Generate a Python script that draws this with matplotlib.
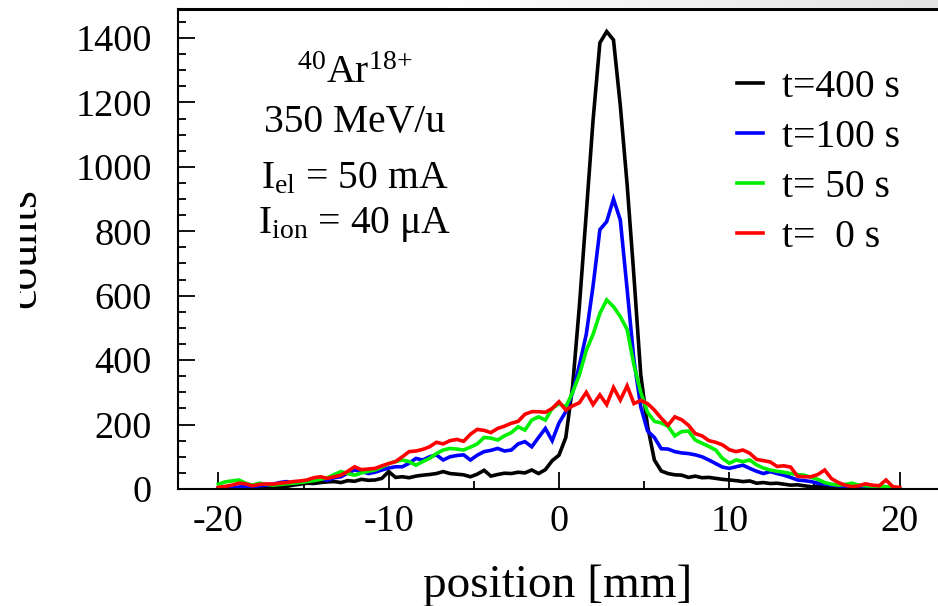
import numpy as np
import matplotlib
matplotlib.use("Agg")
import matplotlib.pyplot as plt
from matplotlib.ticker import MultipleLocator
from matplotlib.transforms import Bbox, TransformedBbox
from matplotlib.colors import LinearSegmentedColormap

plt.rcParams['font.family'] = ['Liberation Serif', 'DejaVu Serif']
plt.rcParams['mathtext.fontset'] = 'custom'
plt.rcParams['mathtext.rm'] = 'Liberation Serif'
plt.rcParams['mathtext.it'] = 'Liberation Serif:italic'
plt.rcParams['mathtext.bf'] = 'Liberation Serif:bold'
plt.rcParams['axes.unicode_minus'] = False

# Beam profile histograms: bin centres from -20 mm to 20 mm, 0.4 mm bins
bin_first, bin_last, bin_width = -20.0, 20.0, 0.4
position = np.arange(bin_first, bin_last + bin_width / 2, bin_width)

counts_t400 = [
    2, 3, 2, 4, 3, 5, 4, 6, 5, 7,
    8, 12, 15, 18, 17, 20, 22, 23, 20, 26,
    24, 30, 27, 28, 33, 54, 36, 38, 35, 40,
    43, 45, 48, 54, 48, 46, 44, 38, 46, 58,
    40, 45, 49, 48, 52, 50, 59, 48, 60, 88,
    105, 160, 320, 570, 855, 1145, 1385, 1420, 1394, 1190,
    945, 660, 355, 195, 90, 56, 48, 44, 43, 36,
    40, 35, 36, 33, 30, 28, 26, 23, 25, 18,
    20, 17, 18, 15, 12, 13, 10, 7, 8, 6,
    5, 6, 4, 5, 3, 4, 2, 3, 2, 2,
    1,
]
counts_t100 = [
    3, 5, 4, 6, 8, 6, 10, 12, 15, 20,
    23, 18, 22, 23, 28, 32, 27, 35, 38, 50,
    59, 55, 48, 52, 59, 65, 69, 69, 80, 95,
    90, 100, 106, 90, 100, 104, 106, 90, 105, 116,
    120, 126, 118, 121, 140, 147, 131, 160, 188, 150,
    205, 240, 300, 385, 480, 630, 805, 830, 900, 835,
    620, 400, 255, 180, 160, 125, 124, 116, 112, 110,
    106, 100, 90, 79, 68, 64, 69, 74, 64, 55,
    48, 54, 48, 43, 36, 28, 26, 23, 18, 15,
    12, 10, 8, 9, 7, 6, 5, 7, 4, 3,
    2,
]
counts_t50 = [
    15, 22, 25, 28, 18, 12, 18, 15, 12, 14,
    16, 18, 20, 23, 26, 30, 35, 45, 54, 48,
    43, 50, 55, 59, 68, 79, 85, 90, 85, 74,
    85, 95, 110, 121, 126, 124, 121, 130, 140, 160,
    158, 152, 165, 175, 193, 183, 214, 224, 214, 250,
    265, 255, 300, 355, 430, 480, 545, 587, 566, 535,
    495, 385, 300, 238, 210, 205, 195, 165, 178, 180,
    152, 142, 132, 121, 95, 80, 90, 85, 90, 75,
    65, 59, 55, 52, 48, 45, 43, 36, 30, 20,
    15, 12, 14, 18, 12, 10, 9, 8, 7, 5,
    3,
]
counts_t0 = [
    5, 8, 12, 18, 16, 10, 14, 16, 15, 18,
    20, 23, 25, 28, 35, 38, 33, 38, 43, 55,
    69, 60, 62, 64, 72, 79, 85, 100, 116, 118,
    123, 131, 145, 140, 150, 154, 148, 170, 185, 182,
    175, 188, 195, 204, 210, 232, 240, 240, 238, 250,
    271, 245, 258, 268, 300, 262, 292, 262, 315, 276,
    320, 265, 275, 265, 245, 220, 198, 224, 215, 198,
    172, 165, 150, 145, 137, 122, 116, 121, 111, 92,
    88, 84, 70, 72, 68, 40, 38, 38, 45, 59,
    32, 20, 12, 7, 10, 16, 12, 10, 28, 7,
    5,
]

series_labels = ['t=400 s', 't=100 s', 't= 50 s', 't=  0 s']
series_colors = ['#000000', '#0000ff', '#00f000', '#ff0000']
series_values = [counts_t400, counts_t100, counts_t50, counts_t0]

W, H = 938, 606
fig = plt.figure(figsize=(W / 100, H / 100), dpi=100)


def fx(px):
    return px / W


def fy(py):
    return 1 - py / H


ax = fig.add_axes([fx(177.5), fy(489), fx(940.5) - fx(177.5), (489 - 9) / H])

handles = []
for vals, col, lab in zip(series_values, series_colors, series_labels):
    ln, = ax.plot(position, vals, color=col, lw=2.6, label=lab,
                  solid_joinstyle='miter')
    handles.append(ln)

ax.set_xlim(-22.4, 22.4)
ax.set_ylim(0, 1490)
ax.xaxis.set_major_locator(MultipleLocator(10))
ax.xaxis.set_minor_locator(MultipleLocator(5))
ax.yaxis.set_major_locator(MultipleLocator(200))
ax.yaxis.set_minor_locator(MultipleLocator(50))

ax.tick_params(which='both', direction='in', top=False, right=False,
               width=1.3, labelsize=27.5)
ax.tick_params(which='major', length=12)
ax.tick_params(which='minor', length=6)
ax.tick_params(axis='y', which='major', pad=18.5)
ax.tick_params(axis='x', which='major', pad=11)

for side in ['left', 'bottom']:
    ax.spines[side].set_linewidth(1.5)
ax.spines['top'].set_linewidth(2.2)
ax.spines['right'].set_visible(False)

# legend in the upper right of the frame
ax.legend(handles=handles, loc='upper left',
          bbox_to_anchor=(fx(737), fy(69)), bbox_transform=fig.transFigure,
          frameon=False, fontsize=28.5, handlelength=0.66,
          handletextpad=0.48, labelspacing=0.33, borderpad=0,
          borderaxespad=0)

# beam / cooler parameters
info_lines = [
    (r'$^{40}$Ar$^{18\!+}$', 83),
    ('350 MeV/u', 132),
    (r'I$_{\rm el}$ = 50 mA', 188),
    (r'I$_{\rm ion}$ = 40 $\mathrm{\mu}$A', 233),
]
for txt, base in info_lines:
    fig.text(fx(355), fy(base), txt, ha='center', va='baseline', fontsize=28.5)

# axis titles
fig.text(fx(557.5), fy(597), 'position [mm]', ha='center', va='baseline',
         fontsize=34)
ylab = fig.text(fx(45), fy(248), 'counts', rotation=90, ha='right',
                va='center', fontsize=33)
ylab.set_clip_box(TransformedBbox(Bbox([[fx(20), 0], [1, 1]]), fig.transFigure))
ylab.set_clip_on(True)

# light shading strip above the top edge on the right
shade = fig.add_axes([fx(450), fy(8), fx(938) - fx(450), 8 / H])
shade.set_axis_off()
shade_cmap = LinearSegmentedColormap.from_list('shade', ['#ffffff', '#e2e2e2'])
shade.imshow(np.linspace(0, 1, 256).reshape(1, -1), aspect='auto',
             cmap=shade_cmap, extent=(0, 1, 0, 1))

fig.savefig('out.png', dpi=100)
